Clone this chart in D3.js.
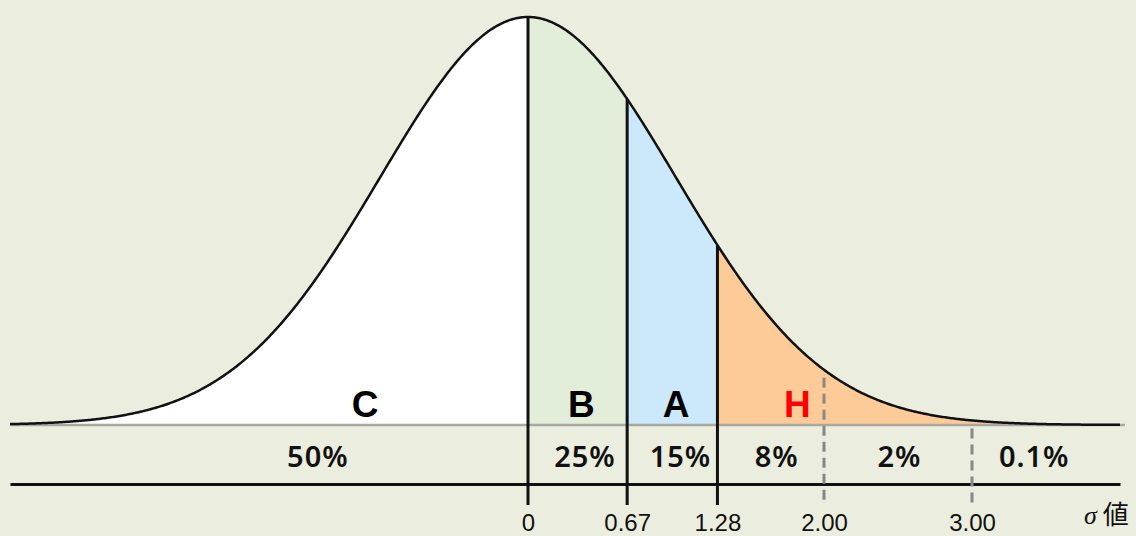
<!DOCTYPE html>
<html>
<head>
<meta charset="utf-8">
<script src="https://cdn.jsdelivr.net/npm/d3@7"></script>
<style>
  body { margin: 0; background: #ebeedf; }
  svg { display: block; }
</style>
</head>
<body>
<svg id="chart" width="1136" height="536"></svg>
<script>
// region boundaries (sigma) and their fills
const bounds = [-3.5, 0, 0.67, 1.28, 4.0];
const regionColors = ['#ffffff', '#e2eed9', '#cce9fb', '#fdcb97'];

// letters inside the curve
const letters = ['C', 'B', 'A', 'H'];
const letterZ = [-1.1, 0.36, 1.0, 1.82];
const letterColors = ['#000', '#000', '#000', '#ff0000'];

// share of each band
const pctLabels = ['50%', '25%', '15%', '8%', '2%', '0.1%'];
const pctZ = [-1.42, 0.385, 1.03, 1.68, 2.51, 3.42];

// sigma ticks
const tickValues = [0, 0.67, 1.28, 2.00, 3.00];
const tickDashed = [false, false, false, true, true];

const W = 1136, H = 536;
const baseY = 425, axisY = 484, tickBottom = 505;

const svg = d3.select('#chart');
svg.append('rect').attr('width', W).attr('height', H).attr('fill', '#ebeedf');

const x = d3.scaleLinear().domain([bounds[0], bounds[bounds.length - 1]]).range([10, 1120]);
const y = d3.scaleLinear().domain([0, 1]).range([baseY, 17]);

// standard normal density, scaled so the peak is 1
const dens = z => Math.exp(-z * z / 2);

const area = d3.area()
    .x(z => x(z))
    .y0(baseY)
    .y1(z => y(dens(z)));

// filled bands under the curve
for (let i = 0; i < regionColors.length; i++) {
    const pts = d3.range(bounds[i], bounds[i + 1], 0.01).concat([bounds[i + 1]]);
    svg.append('path')
        .attr('d', area(pts))
        .attr('fill', regionColors[i]);
}

// grey baseline
svg.append('line')
    .attr('x1', x.range()[0]).attr('x2', x.range()[1] + 5)
    .attr('y1', baseY).attr('y2', baseY)
    .attr('stroke', '#a8a8a0').attr('stroke-width', 2.5);

// curve outline
const line = d3.line().x(z => x(z)).y(z => y(dens(z)));
svg.append('path')
    .attr('d', line(d3.range(bounds[0], bounds[bounds.length - 1] + 0.001, 0.01)))
    .attr('fill', 'none')
    .attr('stroke', '#111')
    .attr('stroke-width', 2.5);

// bottom axis: black line + tick labels
const axis = d3.axisBottom(x)
    .tickValues(tickValues)
    .tickFormat(d => d === 0 ? '0' : d3.format('.2f')(d))
    .tickSize(0)
    .tickSizeOuter(0)
    .tickPadding(30);

const gAxis = svg.append('g')
    .attr('transform', `translate(0,${axisY})`)
    .call(axis);
gAxis.select('.domain').attr('stroke', '#111').attr('stroke-width', 3);
gAxis.selectAll('text')
    .attr('fill', '#111')
    .style('font-family', 'Liberation Sans, Arial, sans-serif')
    .style('font-size', '24px');

// vertical markers from the curve down past the axis
tickValues.forEach((t, i) => {
    const dashed = tickDashed[i];
    svg.append('line')
        .attr('x1', x(t)).attr('x2', x(t))
        .attr('y1', y(dens(t)) + (dashed ? 8 : 0))
        .attr('y2', tickBottom)
        .attr('stroke', dashed ? '#888' : '#111')
        .attr('stroke-width', 3)
        .attr('stroke-dasharray', dashed ? '10,6' : null);
});

// band letters
letters.forEach((l, i) => {
    svg.append('text')
        .attr('x', x(letterZ[i]))
        .attr('y', 417)
        .attr('text-anchor', 'middle')
        .attr('fill', letterColors[i])
        .style('font-family', 'Liberation Sans, Arial, sans-serif')
        .style('font-weight', 'bold')
        .style('font-size', '37px')
        .text(l);
});

// percentages
pctLabels.forEach((p, i) => {
    svg.append('text')
        .attr('x', x(pctZ[i]))
        .attr('y', 467)
        .attr('text-anchor', 'middle')
        .attr('fill', '#111')
        .style('font-family', 'Noto Sans, sans-serif')
        .style('font-weight', '600')
        .style('font-size', '29px')
        .style('letter-spacing', '1px')
        .text(p);
});

// sigma label
const sig = svg.append('text')
    .attr('x', 1084)
    .attr('y', 524)
    .attr('fill', '#111')
    .style('font-size', '26px');
sig.append('tspan')
    .style('font-family', 'Liberation Serif, serif')
    .style('font-style', 'italic')
    .text('σ');
sig.append('tspan')
    .attr('dx', 6)
    .style('font-family', 'Noto Sans CJK JP, sans-serif')
    .text('値');
</script>
</body>
</html>
